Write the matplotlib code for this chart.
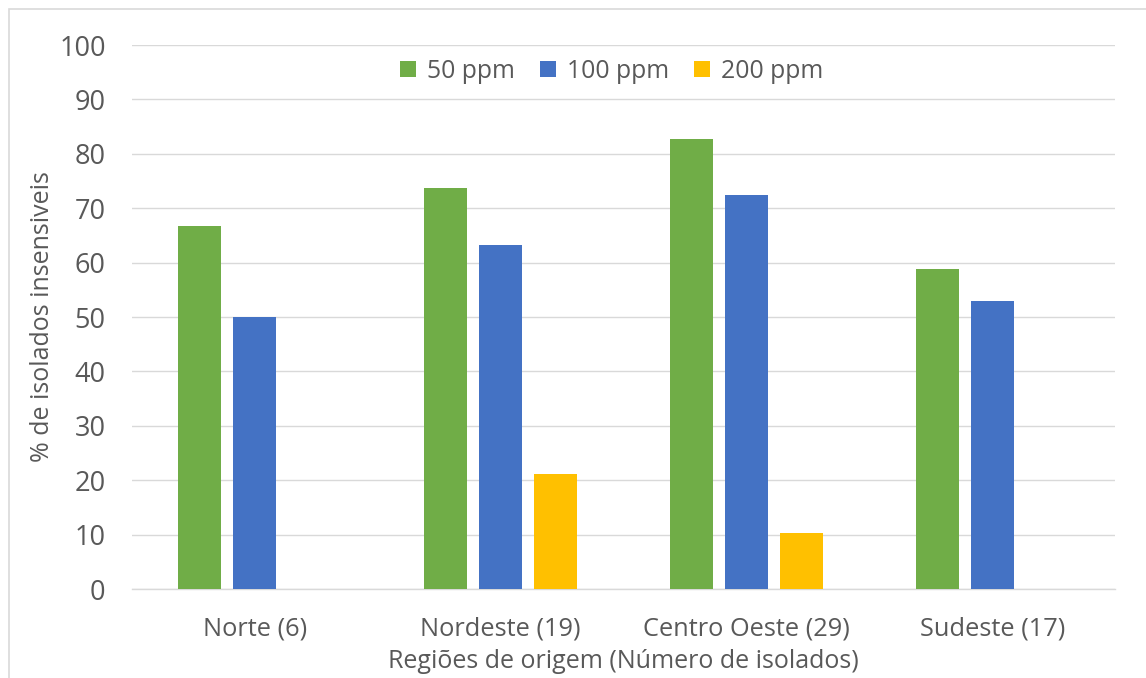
import matplotlib
matplotlib.use("Agg")
import matplotlib.pyplot as plt
from matplotlib.patches import Rectangle
import numpy as np

plt.rcParams['font.family'] = ['Open Sans', 'DejaVu Sans']

categories = ["Norte (6)", "Nordeste (19)", "Centro Oeste (29)", "Sudeste (17)"]
series_names = ["50 ppm", "100 ppm", "200 ppm"]
ppm50 = [66.7, 73.7, 82.8, 58.8]
ppm100 = [50.0, 63.2, 72.4, 52.9]
ppm200 = [0.0, 21.1, 10.3, 0.0]
colors = ["#70AD47", "#4472C4", "#FFC000"]
yticks = [0, 10, 20, 30, 40, 50, 60, 70, 80, 90, 100]

text_color = "#595959"
grid_color = "#D9D9D9"

fig = plt.figure(figsize=(11.46, 6.78), dpi=100)
# outer chart border
fig.patches.append(Rectangle((9 / 1146, -0.05), 1.2, (678 - 9) / 678 + 0.05,
                             transform=fig.transFigure, fill=False,
                             edgecolor=grid_color, linewidth=1.2))

ax = fig.add_axes([132 / 1146, 1 - 589 / 678, (1115 - 132) / 1146, (589 - 45) / 678])

x = np.arange(len(categories))
width = 0.175
offset = 0.224
for i, (vals, name) in enumerate(zip([ppm50, ppm100, ppm200], series_names)):
    ax.bar(x + (i - 1) * offset, vals, width, color=colors[i], label=name, zorder=3)

ax.set_xlim(-0.5, len(categories) - 0.5)
ax.set_ylim(0, 100)
ax.set_yticks(yticks)
ax.set_xticks(x)
ax.set_xticklabels(categories)
ax.yaxis.grid(True, color=grid_color, linewidth=1.0, zorder=0)
ax.set_axisbelow(True)
for s in ["top", "right", "left"]:
    ax.spines[s].set_visible(False)
ax.spines["bottom"].set_color(grid_color)
ax.spines["bottom"].set_linewidth(1.0)
ax.tick_params(axis="both", length=0, colors=text_color)
ax.tick_params(axis="y", pad=19, labelsize=19.5)
ax.tick_params(axis="x", pad=20, labelsize=18.3)
for lbl in ax.get_yticklabels() + ax.get_xticklabels():
    lbl.set_color(text_color)

ax.set_ylabel("% de isolados insensiveis", fontsize=18, color=text_color, labelpad=3)
ax.set_xlabel("Regiões de origem (Número de isolados)", fontsize=18, color=text_color, labelpad=5)

leg = ax.legend(loc="upper center", bbox_to_anchor=(0.488, 1.016), ncol=3, frameon=False,
                fontsize=17.8, handlelength=0.65, handleheight=0.65, handletextpad=0.45,
                columnspacing=1.0, labelcolor=text_color)

fig.savefig("out.png", dpi=100, facecolor="white")
